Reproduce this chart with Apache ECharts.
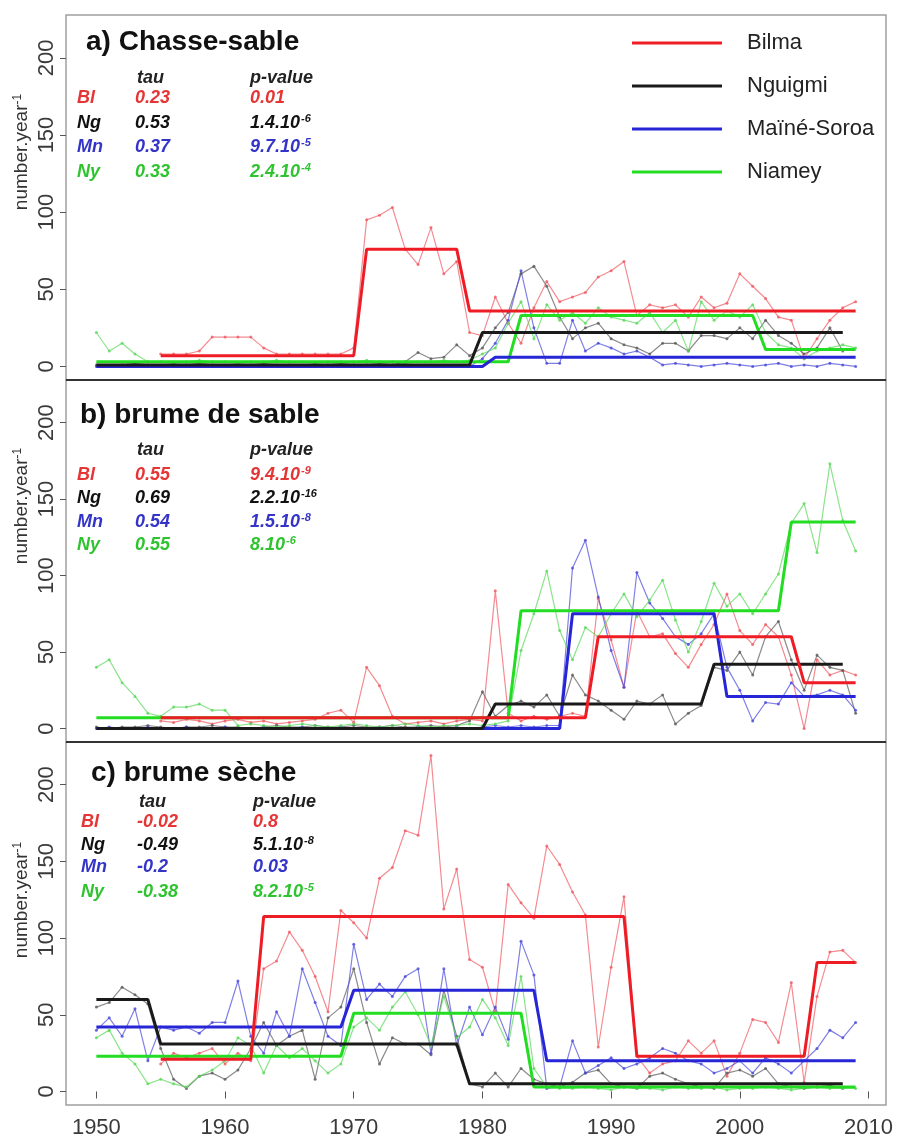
<!DOCTYPE html>
<html><head><meta charset="utf-8">
<script src="https://cdn.jsdelivr.net/npm/echarts@6/dist/echarts.min.js"></script>
<style>html,body{margin:0;padding:0;background:#fff}#c{width:901px;height:1138px}</style>
</head><body><div id="c"></div>
<script>
// ---------- DATA ----------
const years = [1950,1951,1952,1953,1954,1955,1956,1957,1958,1959,1960,1961,1962,1963,1964,1965,1966,1967,1968,1969,
1970,1971,1972,1973,1974,1975,1976,1977,1978,1979,1980,1981,1982,1983,1984,1985,1986,1987,1988,1989,
1990,1991,1992,1993,1994,1995,1996,1997,1998,1999,2000,2001,2002,2003,2004,2005,2006,2007,2008,2009];
const xTicks = [1950,1960,1970,1980,1990,2000,2010];
const yTicks = [0,50,100,150,200];
const stations = ['Bilma','Nguigmi','Maïné-Soroa','Niamey'];
const abbrev = ['Bl','Ng','Mn','Ny'];
const panelTitles = ['a) Chasse-sable','b) brume de sable','c) brume sèche'];

// a) Chasse-sable — annual values
const aBilma = [null,null,null,null,null,8,8,8,10,19,19,19,19,12,8,8,8,8,8,8,
12,95,98,103,76,66,90,60,68,22,20,45,28,15,38,55,42,45,48,58,
62,68,33,40,38,40,32,45,38,41,60,52,44,32,30,5,18,30,38,42];
const aNguigmi = [1,0,1,2,1,0,1,1,2,1,0,1,1,2,1,1,0,1,1,2,
1,1,2,1,3,9,5,6,14,7,12,25,35,60,65,52,32,18,25,28,
18,14,12,8,15,15,10,20,20,18,25,18,30,20,15,8,12,25,10,null];
const aMaine = [0,0,0,0,0,0,0,0,0,0,0,0,0,0,0,0,0,0,0,0,
0,0,0,0,0,0,0,0,0,0,5,15,30,62,25,2,2,30,10,15,
12,8,10,6,1,2,1,0,1,2,1,0,1,2,0,1,0,2,1,0];
const aNiamey = [22,10,15,8,3,3,2,3,4,3,3,2,3,3,4,3,3,2,3,3,
3,4,3,3,2,3,3,4,3,4,8,12,28,42,18,40,30,35,28,38,
32,30,28,35,22,30,10,42,30,36,32,40,22,14,12,5,10,12,14,12];
// a) change-point means [year, value]
const aBilmaFit = [[1955,7],[1970,7],[1971,76],[1978,76],[1979,36],[2009,36]];
const aNguigmiFit = [[1950,1],[1979,1],[1980,22],[2008,22]];
const aMaineFit = [[1950,0],[1980,0],[1981,6],[2009,6]];
const aNiameyFit = [[1950,3],[1982,3],[1983,33],[2001,33],[2002,11],[2009,11]];

// b) brume de sable
const bBilma = [null,null,null,null,null,5,4,6,5,3,5,6,4,5,3,4,5,6,10,12,
4,40,28,8,3,4,5,3,5,6,5,90,10,5,8,6,8,10,8,85,
58,27,77,60,62,49,40,55,68,88,64,55,68,60,35,0,45,35,38,35];
const bNguigmi = [1,0,1,1,2,1,0,1,1,2,1,1,0,1,2,1,1,2,1,1,
2,1,1,2,1,1,2,1,2,5,24,8,15,18,14,22,8,35,22,18,
12,6,18,16,22,3,10,15,40,38,50,35,60,70,45,25,48,40,38,10];
const bMaine = [0,1,0,0,1,0,0,1,0,0,1,0,0,1,0,0,1,0,0,1,
0,0,1,0,0,1,0,0,1,0,1,2,1,2,1,2,2,105,123,86,
51,27,102,82,72,60,55,62,75,40,25,5,17,16,30,21,22,25,22,12];
const bNiamey = [40,45,30,21,10,8,14,14,16,12,12,2,3,2,1,2,3,2,1,2,
3,2,1,2,3,2,1,2,2,3,2,3,5,51,75,103,64,45,66,60,
75,88,73,84,97,71,50,70,95,80,88,75,88,101,134,147,115,173,136,116];
const bBilmaFit = [[1955,7],[1988,7],[1989,60],[2004,60],[2005,30],[2009,30]];
const bNguigmiFit = [[1950,0],[1980,0],[1981,16],[1997,16],[1998,42],[2008,42]];
const bMaineFit = [[1950,0],[1986,0],[1987,75],[1998,75],[1999,21],[2009,21]];
const bNiameyFit = [[1950,7],[1982,7],[1983,77],[2003,77],[2004,135],[2009,135]];

// c) brume sèche
const cBilma = [null,null,null,null,null,18,25,22,25,28,18,25,20,80,85,104,92,75,52,118,
110,100,139,146,170,167,219,119,145,86,81,52,135,123,113,160,148,130,115,29,
81,127,23,12,18,20,33,25,33,10,25,47,45,32,71,6,62,91,92,84];
const cNguigmi = [55,58,68,63,57,28,8,2,10,12,8,14,28,45,30,36,40,8,48,55,
80,45,18,35,31,31,24,66,36,5,3,12,3,15,8,5,3,6,12,14,
5,3,2,10,12,8,5,3,2,12,14,10,15,5,3,2,3,4,2,null];
const cMaine = [40,48,36,54,20,42,40,42,38,45,45,72,36,25,52,36,80,58,36,30,
96,60,70,62,75,80,25,80,30,55,37,55,34,98,76,2,3,33,12,17,
22,15,18,22,28,25,20,18,12,15,20,12,22,18,12,20,28,40,35,45];
const cNiamey = [35,40,25,18,5,8,5,3,10,14,20,35,30,12,30,22,28,20,12,18,
42,48,40,55,65,50,30,62,35,42,60,48,30,75,15,3,2,2,3,2,
1,3,2,2,1,3,2,2,3,1,2,2,3,2,1,2,3,2,2,2];
const cBilmaFit = [[1955,21],[1962,21],[1963,114],[1991,114],[1992,23],[2005,23],[2006,84],[2009,84]];
const cNguigmiFit = [[1950,60],[1954,60],[1955,31],[1978,31],[1979,5],[2008,5]];
const cMaineFit = [[1950,42],[1969,42],[1970,66],[1984,66],[1985,20],[2009,20]];
const cNiameyFit = [[1950,23],[1969,23],[1970,51],[1983,51],[1984,3],[2009,3]];

// Kendall statistics (p-values: mantissa^exponent)
const tauA = ['0.23','0.53','0.37','0.33'];
const pA = ['0.01','1.4.10^-6','9.7.10^-5','2.4.10^-4'];
const tauB = ['0.55','0.69','0.54','0.55'];
const pB = ['9.4.10^-9','2.2.10^-16','1.5.10^-8','8.10^-6'];
const tauC = ['-0.02','-0.49','-0.2','-0.38'];
const pC = ['0.8','5.1.10^-8','0.03','8.2.10^-5'];

// ---------- STYLE / LAYOUT ----------
const fitColors = ['#ee1c25','#1a1a1a','#2626d6','#22dd22'];
const rawColors = ['#ef5a62','#5a5a5a','#4848dc','#5ad85a'];
const statColors = ['#e53535','#111111','#3434c8','#2fc42f'];
const FONT = 'Liberation Sans, Arial, sans-serif';
const grids = [{top:15,height:365},{top:380,height:362},{top:742,height:363}];
const GL = 66, GW = 820;

const raws = [[aBilma,aNguigmi,aMaine,aNiamey],[bBilma,bNguigmi,bMaine,bNiamey],[cBilma,cNguigmi,cMaine,cNiamey]];
const fits = [[aBilmaFit,aNguigmiFit,aMaineFit,aNiameyFit],[bBilmaFit,bNguigmiFit,bMaineFit,bNiameyFit],[cBilmaFit,cNguigmiFit,cMaineFit,cNiameyFit]];
const taus = [tauA,tauB,tauC], ps = [pA,pB,pC];

const series = [];
for (let g = 0; g < 3; g++) {
  for (let s = 0; s < 4; s++) {
    series.push({
      type:'line', name: stations[s] + ' annual', xAxisIndex:g, yAxisIndex:g,
      data: years.map((y,i) => [y, raws[g][s][i]]),
      connectNulls:false, symbol:'circle', symbolSize:3, showSymbol:true,
      lineStyle:{width:1.2, color:rawColors[s], opacity:0.7},
      itemStyle:{color:rawColors[s], opacity:0.8},
      z:2, silent:true, animation:false
    });
  }
  for (const s of [3,2,1,0]) {
    series.push({
      type:'line', name: stations[s], xAxisIndex:g, yAxisIndex:g,
      data: fits[g][s], symbol:'none',
      lineStyle:{width:3, color:fitColors[s]}, itemStyle:{color:fitColors[s]},
      z:3, silent:true, animation:false
    });
  }
}

function richP(txt, color) {
  const parts = txt.split('^');
  const base = {fontSize:18, fontWeight:'bold', fontStyle:'italic', fontFamily:FONT, fill:color, lineHeight:20, verticalAlign:'middle'};
  const sup = {fontSize:11, fontWeight:'bold', fontStyle:'italic', fontFamily:FONT, fill:color, lineHeight:20, verticalAlign:'top', padding:[0,0,0,1]};
  return {text: parts.length > 1 ? '{b|' + parts[0] + '}{s|' + parts[1] + '}' : '{b|' + parts[0] + '}', rich:{b:base, s:sup}, verticalAlign:'middle'};
}

const graphic = [];
const titlePos = [[86,42],[80,415],[91,773]];
const headY = [78,450,802];
const rowY = [[98,123,147,172],[475,498,522,545],[822,845,867,892]];
const colX = [[77,135,250],[77,135,250],[81,137,253]];
for (let g = 0; g < 3; g++) {
  graphic.push({type:'text', x:titlePos[g][0], y:titlePos[g][1], style:{text:panelTitles[g], font:'bold 28px '+FONT, fill:'#111', verticalAlign:'middle', align:'left'}});
  graphic.push({type:'text', x:colX[g][1]+2, y:headY[g], style:{text:'tau', font:'italic bold 18px '+FONT, fill:'#222', verticalAlign:'middle'}});
  graphic.push({type:'text', x:colX[g][2], y:headY[g], style:{text:'p-value', font:'italic bold 18px '+FONT, fill:'#222', verticalAlign:'middle'}});
  for (let s = 0; s < 4; s++) {
    const st = {font:'italic bold 18px '+FONT, fill:statColors[s], verticalAlign:'middle'};
    graphic.push({type:'text', x:colX[g][0], y:rowY[g][s], style:Object.assign({text:abbrev[s]}, st)});
    graphic.push({type:'text', x:colX[g][1], y:rowY[g][s], style:Object.assign({text:taus[g][s]}, st)});
    graphic.push({type:'text', x:colX[g][2], y:rowY[g][s], style:richP(ps[g][s], statColors[s])});
  }
  const yc = [152,506,900][g];
  graphic.push({type:'text', x:22, y:yc, rotation:Math.PI/2, style:{text:'{b|number.year}{s|-1}', rich:{b:{fontSize:19, fontFamily:FONT, fill:'#333', lineHeight:20, verticalAlign:'middle'}, s:{fontSize:12, fontFamily:FONT, fill:'#333', lineHeight:20, verticalAlign:'top'}}, align:'center', verticalAlign:'middle'}});
}
graphic.push({type:'line', shape:{x1:GL,y1:380,x2:GL+GW,y2:380}, style:{stroke:'#333', lineWidth:2}, z:10});
graphic.push({type:'line', shape:{x1:GL,y1:742,x2:GL+GW,y2:742}, style:{stroke:'#333', lineWidth:2}, z:10});

const option = {
  backgroundColor:'#fff',
  animation:false,
  grid: grids.map(gr => ({left:GL, width:GW, top:gr.top, height:gr.height, show:true, borderColor:'#a0a0a0', borderWidth:1.5, containLabel:false, outerBoundsMode:'none'})),
  xAxis: [0,1,2].map(g => ({
    gridIndex:g, type:'value', min:1947.64, max:2011.36,
    splitLine:{show:false}, axisLine:{show:false},
    axisTick:{show:g===2, length:7, customValues:xTicks, lineStyle:{color:'#555'}},
    axisLabel:{show:g===2, customValues:xTicks, fontSize:22, color:'#3a3a3a', margin:12, fontFamily:FONT, formatter:v=>String(v)}
  })),
  yAxis: [0,1,2].map(g => ({
    gridIndex:g, type:'value', min:-8.8, max:227.8,
    splitLine:{show:false}, axisLine:{show:false},
    axisTick:{show:true, length:6, customValues:yTicks, lineStyle:{color:'#555'}},
    axisLabel:{customValues:yTicks, rotate:90, fontSize:22, color:'#3a3a3a', margin:8, fontFamily:FONT, formatter:v=>String(v)}
  })),
  legend: {
    data: stations, orient:'vertical', left:632, top:32, padding:0, itemWidth:90, itemHeight:3, itemGap:21,
    icon:'rect', selectedMode:false,
    textStyle:{fontSize:22, color:'#222', fontFamily:FONT, padding:[0,0,0,20]}
  },
  graphic: graphic,
  series: series
};
const chart = echarts.init(document.getElementById('c'), null, {renderer:'canvas'});
chart.setOption(option);
</script>
</body></html>
